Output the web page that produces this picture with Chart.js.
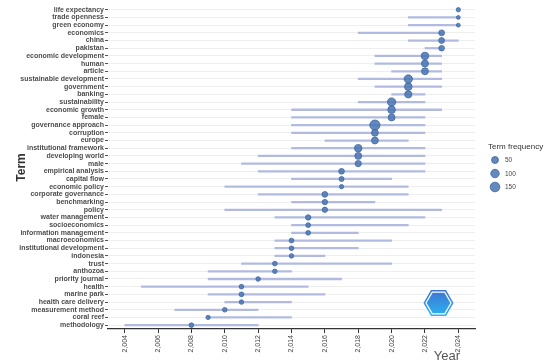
<!DOCTYPE html>
<html>
<head>
<meta charset="utf-8">
<script src="https://cdn.jsdelivr.net/npm/chart.js@4.4.1/dist/chart.umd.min.js"></script>
<style>
    html, body { margin: 0; padding: 0; background: #fff; }
    #wrap { width: 550px; height: 364px; }
</style>
</head>
<body>
<div id="wrap"><canvas id="trendChart" width="550" height="364"></canvas></div>
<script>
// -------------------------------
// Data, top row first
// -------------------------------
const terms = [
    "life expectancy", "trade openness", "green economy", "economics", "china", "pakistan",
    "economic development", "human", "article", "sustainable development", "government", "banking",
    "sustainability", "economic growth", "female", "governance approach", "corruption", "europe",
    "institutional framework", "developing world", "male", "empirical analysis", "capital flow",
    "economic policy", "corporate governance", "benchmarking", "policy", "water management",
    "socioeconomics", "information management", "macroeconomics", "institutional development",
    "indonesia", "trust", "anthozoa", "priority journal", "health", "marine park",
    "health care delivery", "measurement method", "coral reef", "methodology"
];
const yearQ1 = [
    2024, 2021, 2021, 2018, 2021, 2022,
    2019, 2019, 2020, 2018, 2019, 2020,
    2018, 2014, 2014, 2014, 2014, 2016,
    2014, 2012, 2011, 2012, 2014,
    2010, 2012, 2014, 2010, 2013,
    2014, 2014, 2013, 2013,
    2013, 2011, 2009, 2009, 2005, 2009,
    2010, 2007, 2009, 2004
];
const yearMedian = [
    2024, 2024, 2024, 2023, 2023, 2023,
    2022, 2022, 2022, 2021, 2021, 2021,
    2020, 2020, 2020, 2019, 2019, 2019,
    2018, 2018, 2018, 2017, 2017,
    2017, 2016, 2016, 2016, 2015,
    2015, 2015, 2014, 2014,
    2014, 2013, 2013, 2012, 2011, 2011,
    2011, 2010, 2009, 2008
];
const yearQ3 = [
    2024, 2024, 2024, 2023, 2024, 2023,
    2023, 2023, 2023, 2023, 2023, 2022,
    2022, 2023, 2022, 2022, 2022, 2021,
    2022, 2022, 2022, 2022, 2020,
    2021, 2021, 2019, 2023, 2022,
    2021, 2018, 2020, 2018,
    2016, 2020, 2014, 2017, 2015, 2016,
    2014, 2012, 2014, 2012
];
const termFreq = [
    11, 10, 10, 27, 27, 24,
    67, 52, 50, 95, 70, 58,
    95, 70, 50, 180, 50, 48,
    67, 50, 35, 25, 16,
    11, 24, 20, 20, 20,
    14, 14, 14, 13,
    12, 13, 12, 13, 13, 14,
    12, 13, 11, 13
];
const yearTicks = [2004, 2006, 2008, 2010, 2012, 2014, 2016, 2018, 2020, 2022, 2024];
const legendFreqs = [50, 100, 150];

const dotColor = "rgba(72, 116, 178, 0.85)";
const dotBorder = "#3c66a2";
const lineColor = "#b2bbdf";

const fMin = Math.min(...termFreq);
const fMax = Math.max(...termFreq);
function radiusFor(f) {
    const t = Math.max(0, (f - fMin) / (fMax - fMin));
    return 1.9 + 3.2 * Math.sqrt(t);
}

// -------------------------------
// Legend, axis title "Year" and the corner logo
// -------------------------------
const extrasPlugin = {
    id: "extras",
    afterDraw(chart) {
        const ctx = chart.ctx;
        ctx.save();
        ctx.fillStyle = "#333";
        ctx.font = "8px 'Liberation Sans', Arial, sans-serif";
        ctx.textAlign = "left";
        ctx.textBaseline = "middle";
        ctx.fillText("Term frequency", 488, 147);

        legendFreqs.forEach((f, i) => {
            const y = 160 + i * 13.5;
            ctx.beginPath();
            ctx.arc(495, y, radiusFor(f), 0, Math.PI * 2);
            ctx.fillStyle = dotColor;
            ctx.fill();
            ctx.lineWidth = 0.8;
            ctx.strokeStyle = dotBorder;
            ctx.stroke();
            ctx.fillStyle = "#444";
            ctx.font = "6.5px 'Liberation Sans', Arial, sans-serif";
            ctx.fillText(String(f), 505, y + 0.5);
        });

        ctx.fillStyle = "#555";
        ctx.font = "13px 'Liberation Sans', Arial, sans-serif";
        ctx.textAlign = "center";
        ctx.fillText("Year", 447, 356);

        // logo
        const cx = 438.5, cy = 303, r = 15;
        const hex = (rad) => {
            ctx.beginPath();
            for (let k = 0; k < 6; k++) {
                const a = Math.PI / 6 + k * Math.PI / 3 + Math.PI / 2;
                const px = cx + rad * Math.cos(a), py = cy + rad * Math.sin(a);
                if (k === 0) ctx.moveTo(px, py); else ctx.lineTo(px, py);
            }
            ctx.closePath();
        };
        const g = ctx.createLinearGradient(cx, cy - r, cx, cy + r);
        g.addColorStop(0, "#3f6fd0");
        g.addColorStop(1, "#2ab8f2");
        hex(r);
        ctx.fillStyle = g;
        ctx.fill();
        hex(r - 2.5);
        ctx.lineWidth = 1.2;
        ctx.strokeStyle = "#fff";
        ctx.stroke();
        ctx.restore();
    }
};

// -------------------------------
// Chart
// -------------------------------
new Chart(document.getElementById("trendChart"), {
    type: "bar",
    data: {
        labels: terms,
        datasets: [
            {
                type: "scatter",
                data: terms.map((t, i) => ({ x: yearMedian[i], y: t })),
                pointRadius: termFreq.map(radiusFor),
                pointBackgroundColor: dotColor,
                pointBorderColor: dotBorder,
                pointBorderWidth: 0.8,
                order: 0
            },
            {
                type: "bar",
                data: terms.map((t, i) => [yearQ1[i], yearQ3[i]]),
                backgroundColor: lineColor,
                barThickness: 1.6,
                order: 1
            }
        ]
    },
    options: {
        indexAxis: "y",
        responsive: false,
        animation: false,
        layout: { padding: { left: 14, right: 75, top: 5, bottom: 0 } },
        plugins: {
            legend: { display: false },
            tooltip: { enabled: false }
        },
        scales: {
            x: {
                type: "linear",
                min: 2003,
                max: 2025,
                afterBuildTicks: s => { s.ticks = yearTicks.map(v => ({ value: v })); },
                afterFit: s => { s.height = 35; },
                grid: { drawOnChartArea: false, drawTicks: true, tickLength: 4, tickColor: "#333" },
                border: { color: "#333", width: 1.2 },
                ticks: {
                    minRotation: 90,
                    maxRotation: 90,
                    padding: 2,
                    color: "#444",
                    font: { family: "'Liberation Sans', Arial, sans-serif", size: 7 }
                }
            },
            y: {
                type: "category",
                offset: true,
                afterFit: s => { s.width = 94; },
                grid: { offset: false, color: "#eeeeee", lineWidth: 1, drawTicks: true, tickLength: 3, tickColor: "#555" },
                border: { display: false },
                ticks: {
                    autoSkip: false,
                    padding: 1,
                    color: "#4d4d4d",
                    font: { family: "'Liberation Sans', Arial, sans-serif", size: 7, weight: "bold" }
                },
                title: {
                    display: true,
                    text: "Term",
                    color: "#333",
                    padding: 0,
                    font: { family: "'Liberation Sans', Arial, sans-serif", size: 12, weight: "bold" }
                }
            }
        }
    },
    plugins: [extrasPlugin]
});
</script>
</body>
</html>
